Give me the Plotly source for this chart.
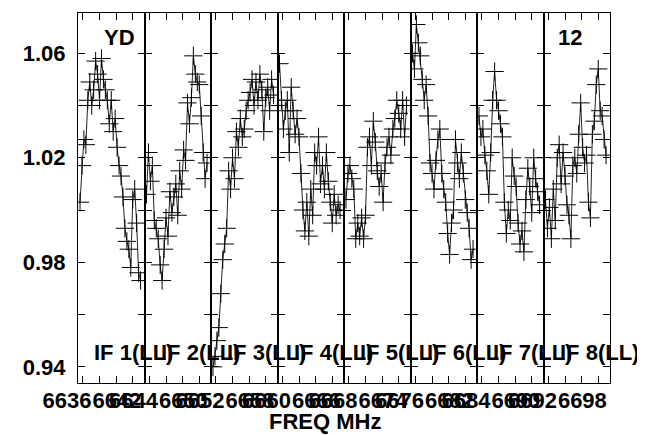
import plotly.graph_objects as go
from plotly.subplots import make_subplots

# ---------------- data ----------------
IF_START_MHZ = [6636, 6644, 6652, 6660, 6668, 6676, 6684, 6692]
IF_NAMES = ["IF 1(LL)", "IF 2(LL)", "IF 3(LL)", "IF 4(LL)",
            "IF 5(LL)", "IF 6(LL)", "IF 7(LL)", "IF 8(LL)"]
CHANNEL_FIRST_OFFSET_MHZ = -0.36
CHANNEL_STEP_MHZ = 0.235

AMP_IF1 = [1.003, 1.017, 1.027, 1.025, 1.042, 1.049, 1.040, 1.046, 1.057, 1.052, 1.042,
           1.058, 1.050, 1.046, 1.042, 1.033, 1.042, 1.030, 1.035, 1.024, 1.017, 1.013,
           1.005, 0.993, 0.988, 0.985, 0.978, 1.004, 1.008, 0.995, 0.976, 0.973]
AMP_IF2 = [1.006, 1.022, 1.011, 1.017, 0.996, 0.993, 0.989, 0.979, 0.973, 0.985, 0.997,
           0.990, 1.007, 0.999, 1.005, 1.010, 0.998, 1.015, 1.008, 1.023, 1.019, 1.041,
           1.033, 1.043, 1.059, 1.052, 1.049, 1.048, 1.036, 1.022, 1.012, 1.018]
AMP_IF3 = [0.940, 0.944, 0.950, 0.955, 0.968, 0.981, 0.987, 0.993, 1.015, 1.008, 1.020,
           1.012, 1.030, 1.024, 1.035, 1.028, 1.031, 1.038, 1.042, 1.045, 1.050, 1.040,
           1.049, 1.042, 1.052, 1.046, 1.030, 1.043, 1.047, 1.038, 1.050, 1.044]
AMP_IF4 = [1.056, 1.042, 1.031, 1.038, 1.042, 1.022, 1.047, 1.038, 1.029, 1.035, 1.028,
           1.014, 1.000, 0.992, 1.003, 0.990, 1.008, 0.998, 1.022, 1.017, 1.028, 1.010,
           1.017, 1.008, 1.022, 1.011, 1.003, 0.995, 1.006, 0.998, 1.002, 1.000]
AMP_IF5 = [1.004, 1.014, 1.017, 1.012, 1.008, 0.989, 0.995, 0.990, 0.997, 0.989, 0.998,
           1.024, 1.028, 1.017, 1.034, 1.026, 1.015, 1.009, 1.014, 1.003, 1.018, 1.024,
           1.028, 1.021, 1.031, 1.035, 1.042, 1.037, 1.031, 1.042, 1.028, 1.040]
AMP_IF6 = [1.060, 1.054, 1.071, 1.064, 1.059, 1.050, 1.042, 1.048, 1.036, 1.018, 1.014,
           1.008, 1.019, 1.027, 1.031, 1.014, 1.008, 1.003, 0.991, 0.983, 0.995, 1.000,
           1.027, 1.018, 1.012, 1.022, 1.014, 1.004, 0.999, 0.993, 0.981, 0.985]
AMP_IF7 = [1.036, 1.028, 1.031, 1.021, 1.015, 1.006, 1.022, 1.042, 1.053, 1.042, 1.038,
           1.033, 1.028, 1.003, 0.991, 1.000, 0.996, 1.020, 1.013, 1.009, 0.995, 0.987,
           0.992, 0.984, 1.004, 1.016, 1.009, 0.999, 1.020, 1.012, 1.007, 1.002]
AMP_IF8 = [1.004, 0.993, 1.001, 0.989, 1.008, 0.996, 1.020, 1.025, 1.010, 1.022, 1.013,
           1.002, 0.998, 0.989, 1.017, 1.020, 1.014, 1.029, 1.041, 1.024, 1.018, 1.021,
           1.003, 0.997, 1.029, 1.034, 1.048, 1.054, 1.038, 1.036, 1.027, 1.021]
AMPLITUDES = [AMP_IF1, AMP_IF2, AMP_IF3, AMP_IF4, AMP_IF5, AMP_IF6, AMP_IF7, AMP_IF8]

X_TICK_OFFSETS_MHZ = [0, 2, 4, 6]
X_LABELLED_OFFSETS_MHZ = [0, 6]
PANEL_RANGE_OFFSETS_MHZ = [-0.6, 7.4]

Y_TICKS = [0.94, 0.96, 0.98, 1.00, 1.02, 1.04, 1.06]
Y_TICK_TEXT = ["0.94", "", "0.98", "", "1.02", "", "1.06"]
Y_RANGE = [0.9338, 1.0754]

SOURCE_LABEL = "YD"
BASELINE_LABEL = "12"
X_TITLE = "FREQ MHz"

# ---------------- layout constants ----------------
PAGE_OFFSET = 8            # default body margin of the html page
W, H = 645 - PAGE_OFFSET, 435 - PAGE_OFFSET
ML, MR, MT, MB = 78 - PAGE_OFFSET, 35, 13 - PAGE_OFFSET, 52
PW, PH = W - ML - MR, H - MT - MB
FONT = "Liberation Sans"
FS = 22


def px_x(page_px):
    return (page_px - PAGE_OFFSET - ML) / PW


def px_y(page_py):
    return 1 - (page_py - PAGE_OFFSET - MT) / PH


n = len(IF_START_MHZ)
fig = make_subplots(rows=1, cols=n, shared_yaxes=True, horizontal_spacing=0)

tick_font = dict(family=FONT, size=FS, color="black", weight="bold")

for i, (f0, amps) in enumerate(zip(IF_START_MHZ, AMPLITUDES)):
    freqs = [f0 + CHANNEL_FIRST_OFFSET_MHZ + k * CHANNEL_STEP_MHZ for k in range(len(amps))]
    fig.add_trace(
        go.Scatter(
            x=freqs, y=amps, mode="lines+markers",
            line=dict(color="#222222", width=1),
            marker=dict(symbol="cross-thin", size=13, color="black",
                        line=dict(color="black", width=1)),
            showlegend=False, hoverinfo="skip",
        ),
        row=1, col=i + 1,
    )
    tickvals = [f0 + o for o in X_TICK_OFFSETS_MHZ]
    ticktext = [str(f0 + o) if o in X_LABELLED_OFFSETS_MHZ else "" for o in X_TICK_OFFSETS_MHZ]
    fig.update_xaxes(
        row=1, col=i + 1,
        range=[f0 + PANEL_RANGE_OFFSETS_MHZ[0], f0 + PANEL_RANGE_OFFSETS_MHZ[1]],
        tickmode="array", tickvals=tickvals, ticktext=ticktext,
        ticks="inside", ticklen=7, tickwidth=1, tickcolor="black",
        showline=True, linecolor="black", linewidth=1, mirror="ticks",
        showgrid=False, zeroline=False, tickangle=0,
        tickfont=tick_font,
        ticklabelshift=-16, ticklabelstandoff=-2, automargin=False,
    )
    fig.update_yaxes(
        row=1, col=i + 1,
        range=Y_RANGE,
        tickmode="array", tickvals=Y_TICKS, ticktext=Y_TICK_TEXT,
        ticks="inside", ticklen=7, tickwidth=1, tickcolor="black",
        showline=True, linecolor="black", linewidth=1, mirror="ticks",
        showgrid=False, zeroline=False,
        tickfont=tick_font,
        ticklabelstandoff=7, automargin=False,
    )

annotations = []
label_font = dict(family=FONT, size=FS, color="black", weight="bold")
panel_w = PW / n
for i, name in enumerate(IF_NAMES):
    annotations.append(dict(
        text=name, xref="paper", yref="paper",
        x=px_x(78 + i * panel_w + 14), y=px_y(352),
        xanchor="left", yanchor="middle", showarrow=False, font=label_font,
    ))
annotations.append(dict(text=SOURCE_LABEL, xref="paper", yref="paper",
                        x=px_x(102), y=px_y(37), xanchor="left", yanchor="middle",
                        showarrow=False, font=label_font))
annotations.append(dict(text=BASELINE_LABEL, xref="paper", yref="paper",
                        x=px_x(584), y=px_y(37), xanchor="right", yanchor="middle",
                        showarrow=False, font=label_font))
annotations.append(dict(text=X_TITLE, xref="paper", yref="paper",
                        x=px_x(325), y=px_y(421), xanchor="center", yanchor="middle",
                        showarrow=False, font=label_font))

fig.update_layout(
    template="none",
    width=W, height=H,
    margin=dict(l=ML, r=MR, t=MT, b=MB, pad=0),
    paper_bgcolor="white", plot_bgcolor="white",
    font=dict(family=FONT, size=FS, color="black", weight="bold"),
    annotations=annotations,
    showlegend=False,
)

fig.write_html("out.html")
